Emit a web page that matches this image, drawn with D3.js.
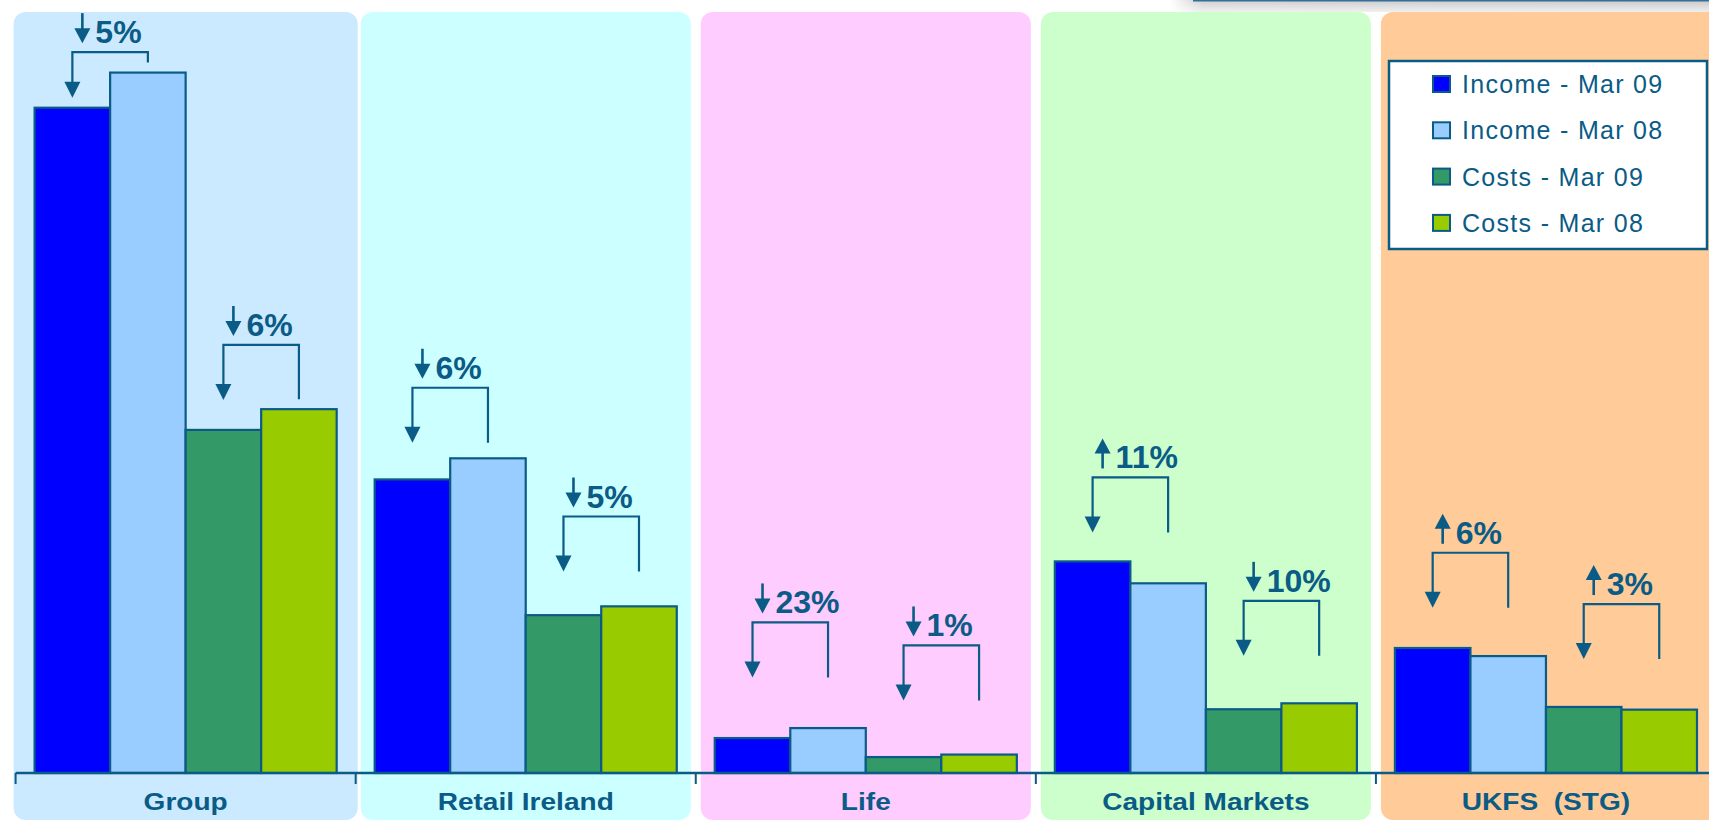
<!DOCTYPE html>
<html>
<head>
<meta charset="utf-8">
<script src="https://cdn.jsdelivr.net/npm/d3@7"></script>
<style>
  body { margin: 0; background: #fff; overflow: hidden; }
  svg { display: block; font-family: "Liberation Sans", Arial, sans-serif; }
</style>
</head>
<body>
<div id="chart"></div>
<script>
// data (income / costs per division, arbitrary units ~ EUR m)
const categories = ["Group", "Retail Ireland", "Life", "Capital Markets", "UKFS  (STG)"];
const seriesNames = ["Income - Mar 09", "Income - Mar 08", "Costs - Mar 09", "Costs - Mar 08"];
const incomeMar09 = [3465, 1529, 182, 1102, 651];
const incomeMar08 = [3648, 1639, 234, 988, 609];
const costsMar09 = [1787, 822, 83, 332, 344];
const costsMar08 = [1895, 868, 96, 363, 330];
const incomeChange = ["5%", "6%", "23%", "11%", "6%"];
const incomeDir = ["down", "down", "down", "up", "up"];
const costsChange = ["6%", "5%", "1%", "10%", "3%"];
const costsDir = ["down", "down", "down", "down", "up"];

const seriesColors = ["#0000ff", "#99ccff", "#339966", "#99cc00"];
const panelColors = ["#cceaff", "#ccffff", "#ffccff", "#ccffcc", "#ffcc99"];
const ink = "#0a5b85";

const W = 1709, H = 821, baseY = 773;

const svg = d3.select("#chart").append("svg")
    .attr("width", W)
    .attr("height", H);

// scales
const x = d3.scaleBand().domain(categories).range([15.6, 1716]);
const xs = d3.scaleBand().domain(seriesNames).range([19, x.bandwidth() - 19]);
const y = d3.scaleLinear().domain([0, 4000]).range([baseY, 5]);
const color = d3.scaleOrdinal().domain(seriesNames).range(seriesColors);

// grey strip at top right (remains of a slide header)
const defs = svg.append("defs");
const g1 = defs.append("linearGradient").attr("id", "strip").attr("x1", 0).attr("x2", 1).attr("y1", 0).attr("y2", 0);
g1.append("stop").attr("offset", "0%").attr("stop-color", "#fff");
g1.append("stop").attr("offset", "6%").attr("stop-color", "#cfcfcf");
g1.append("stop").attr("offset", "100%").attr("stop-color", "#c8c8c8");
const g2 = defs.append("linearGradient").attr("id", "fade").attr("x1", 0).attr("x2", 0).attr("y1", 0).attr("y2", 1);
g2.append("stop").attr("offset", "0%").attr("stop-color", "#fff").attr("stop-opacity", 0);
g2.append("stop").attr("offset", "100%").attr("stop-color", "#fff").attr("stop-opacity", 0.7);
svg.append("rect").attr("x", 1170).attr("y", 0).attr("width", W - 1170).attr("height", 12).attr("fill", "url(#strip)");
svg.append("rect").attr("x", 1170).attr("y", 0).attr("width", W - 1170).attr("height", 12).attr("fill", "url(#fade)");
svg.append("line").attr("x1", 1193).attr("x2", W).attr("y1", 0.8).attr("y2", 0.8)
    .attr("stroke", "#336f99").attr("stroke-width", 1.6);

// coloured panels behind each division
svg.append("g").selectAll("rect")
  .data(categories)
  .join("rect")
    .attr("x", (d, i) => x(d) + (i === 0 ? -2 : 5))
    .attr("y", 12)
    .attr("width", (d, i) => i === 0 ? x.bandwidth() + 4 : (i === categories.length - 1 ? x.bandwidth() + 20 : x.bandwidth() - 10))
    .attr("height", 808)
    .attr("rx", 12)
    .attr("fill", (d, i) => panelColors[i]);

// bars
const rows = categories.map((c, i) => ({
  cat: c,
  vals: [incomeMar09[i], incomeMar08[i], costsMar09[i], costsMar08[i]]
}));

svg.append("g")
  .selectAll("g")
  .data(rows)
  .join("g")
    .attr("transform", d => `translate(${x(d.cat)},0)`)
  .selectAll("rect")
  .data(d => seriesNames.map((s, k) => ({key: s, value: d.vals[k]})))
  .join("rect")
    .attr("x", d => xs(d.key))
    .attr("y", d => y(d.value))
    .attr("width", xs.bandwidth())
    .attr("height", d => baseY - y(d.value))
    .attr("fill", d => color(d.key))
    .attr("stroke", ink)
    .attr("stroke-width", 2.2);

// axis line + ticks at band edges
svg.append("line")
    .attr("x1", x.range()[0]).attr("x2", W)
    .attr("y1", baseY).attr("y2", baseY)
    .attr("stroke", ink).attr("stroke-width", 2.5);
svg.append("g").selectAll("line")
  .data(categories)
  .join("line")
    .attr("x1", d => x(d)).attr("x2", d => x(d))
    .attr("y1", baseY).attr("y2", baseY + 11)
    .attr("stroke", ink).attr("stroke-width", 2);

const xAxis = svg.append("g")
    .attr("transform", `translate(0,${baseY})`)
    .call(d3.axisBottom(x).tickSize(0).tickPadding(21));
xAxis.select(".domain").remove();
xAxis.selectAll("text")
    .attr("fill", ink)
    .attr("font-family", "Liberation Sans, Arial, sans-serif")
    .attr("font-size", 23)
    .attr("font-weight", "bold")
    .attr("transform", "scale(1.22,1)")
    .style("white-space", "pre");

// change annotations (bracket + arrow + percentage)
const notes = [];
categories.forEach((c, i) => {
  notes.push({cat: c, s1: seriesNames[0], s2: seriesNames[1], v1: incomeMar09[i], v2: incomeMar08[i], label: incomeChange[i], dir: incomeDir[i]});
  notes.push({cat: c, s1: seriesNames[2], s2: seriesNames[3], v1: costsMar09[i], v2: costsMar08[i], label: costsChange[i], dir: costsDir[i]});
});

const ann = svg.append("g").selectAll("g").data(notes).join("g");

ann.each(function(d) {
  const g = d3.select(this);
  const xL = x(d.cat) + xs(d.s1) + xs.bandwidth() / 2;
  const xR = x(d.cat) + xs(d.s2) + xs.bandwidth() / 2;
  const by = 0.87 * y(Math.max(d.v1, d.v2)) - 11;
  const tip = Math.min(by + 55, y(d.v1) - 10);
  const rEnd = Math.min(by + 55, y(d.v2) - 10);

  g.append("path")
      .attr("d", `M${xL},${tip - 14}V${by}H${xR}V${rEnd}`)
      .attr("fill", "none").attr("stroke", ink).attr("stroke-width", 2.2);
  g.append("path")
      .attr("d", `M${xL - 8},${tip - 16}L${xL + 8},${tip - 16}L${xL},${tip}Z`)
      .attr("fill", ink);

  const ax = xL + 10, base = by - 9, top = base - 30;
  if (d.dir === "down") {
    g.append("line").attr("x1", ax).attr("x2", ax).attr("y1", top).attr("y2", base - 10)
        .attr("stroke", ink).attr("stroke-width", 2.6);
    g.append("path").attr("d", `M${ax - 8},${base - 15}L${ax + 8},${base - 15}L${ax},${base}Z`).attr("fill", ink);
  } else {
    g.append("line").attr("x1", ax).attr("x2", ax).attr("y1", top + 10).attr("y2", base)
        .attr("stroke", ink).attr("stroke-width", 2.6);
    g.append("path").attr("d", `M${ax - 8},${top + 15}L${ax + 8},${top + 15}L${ax},${top}Z`).attr("fill", ink);
  }
  g.append("text")
      .attr("x", ax + 13).attr("y", base)
      .attr("fill", ink)
      .attr("font-size", 32)
      .attr("font-weight", "bold")
      .text(d.label);
});

// legend
const legend = svg.append("g");
legend.append("rect")
    .attr("x", 1389).attr("y", 61).attr("width", 318).attr("height", 188)
    .attr("fill", "#fff").attr("stroke", ink).attr("stroke-width", 2.5);
const items = legend.selectAll("g.item").data(seriesNames).join("g")
    .attr("class", "item")
    .attr("transform", (d, i) => `translate(1433,${76 + i * 46.3})`);
items.append("rect")
    .attr("width", 17).attr("height", 16)
    .attr("fill", d => color(d)).attr("stroke", ink).attr("stroke-width", 2);
items.append("text")
    .attr("x", 29).attr("y", 17)
    .attr("fill", ink)
    .attr("font-size", 25)
    .attr("letter-spacing", 1.3)
    .text(d => d);
</script>
</body>
</html>
